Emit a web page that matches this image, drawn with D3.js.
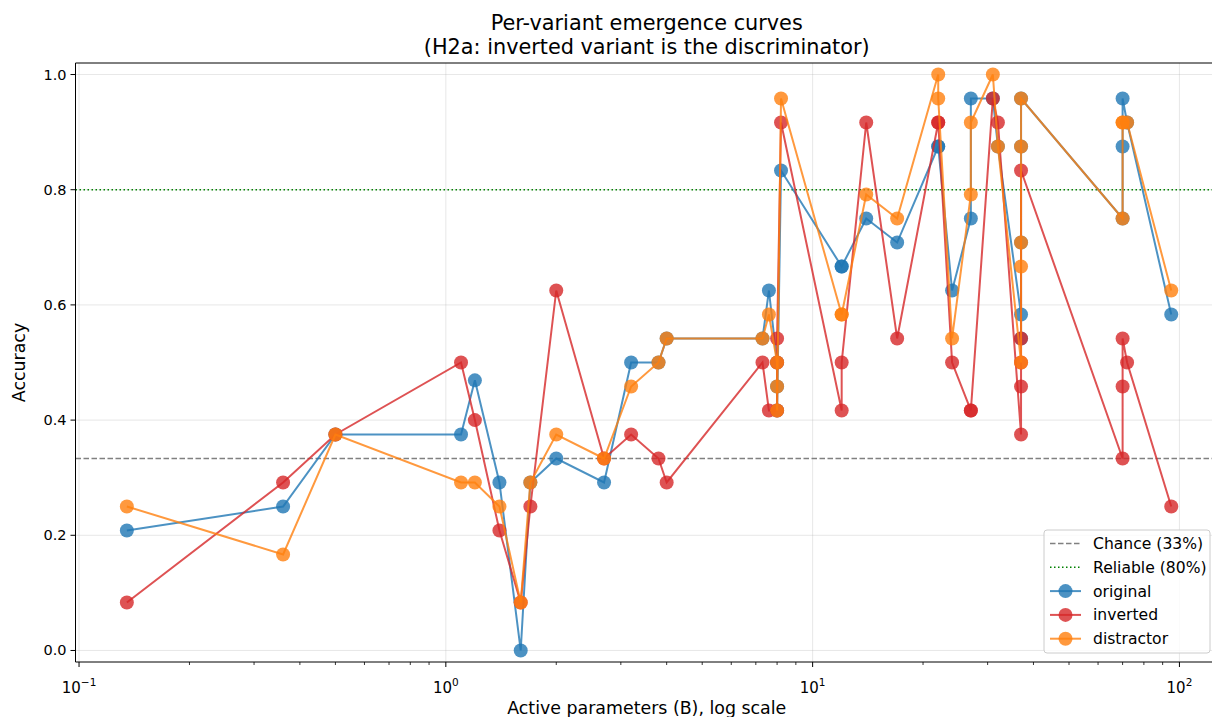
<!DOCTYPE html>
<html>
<head>
<meta charset="utf-8">
<script src="https://cdn.jsdelivr.net/npm/d3@7"></script>
<style>
  body { margin: 0; background: #fff; }
  svg text { font-family: "DejaVu Sans", sans-serif; fill: #000; }
</style>
</head>
<body>
<svg id="chart" width="1212" height="717"></svg>
<script>
// active parameters (B) per model, sorted; repeated values = several models of same size
var params = [0.135, 0.36, 0.5, 1.1, 1.2, 1.4, 1.6, 1.7, 2.0, 2.7, 3.2, 3.8, 4.0, 7.3, 7.6,
  8.0, 8.0, 8.0, 8.2, 12, 12, 14, 17, 22, 22, 24, 27, 27, 31, 32,
  37, 37, 37, 37, 37, 70, 70, 70, 72, 95];

var original = [0.2083, 0.25, 0.375, 0.375, 0.469, 0.2917, 0.0, 0.2917, 0.3333, 0.2917, 0.5, 0.5, 0.5417, 0.5417, 0.625,
  0.5, 0.4583, 0.4167, 0.8333, 0.6667, 0.6667, 0.75, 0.7083, 0.875, 0.875, 0.625, 0.75, 0.9583, 0.9583, 0.875,
  0.5833, 0.5417, 0.7083, 0.875, 0.9583, 0.75, 0.875, 0.9583, 0.9167, 0.5833];

var inverted = [0.0833, 0.2917, 0.375, 0.5, 0.4, 0.2083, 0.0833, 0.25, 0.625, 0.3333, 0.375, 0.3333, 0.2917, 0.5, 0.4167,
  0.4167, 0.5, 0.5417, 0.9167, 0.4167, 0.5, 0.9167, 0.5417, 0.9167, 0.9167, 0.5, 0.4167, 0.4167, 0.9583, 0.9167,
  0.375, 0.4583, 0.5417, 0.5, 0.8333, 0.3333, 0.4583, 0.5417, 0.5, 0.25];

var distractor = [0.25, 0.1667, 0.375, 0.2917, 0.2917, 0.25, 0.0833, 0.2917, 0.375, 0.3333, 0.4583, 0.5, 0.5417, 0.5417, 0.5833,
  0.5, 0.4583, 0.4167, 0.9583, 0.5833, 0.5833, 0.7917, 0.75, 1.0, 0.9583, 0.5417, 0.7917, 0.9167, 1.0, 0.875,
  0.5, 0.6667, 0.7083, 0.875, 0.9583, 0.75, 0.9167, 0.9167, 0.9167, 0.625];

var seriesNames = ['original', 'inverted', 'distractor'];
var seriesColors = ['#1f77b4', '#d62728', '#ff7f0e'];

var yTicks = [0, 0.2, 0.4, 0.6, 0.8, 1.0];
var xTicks = [0.1, 1, 10, 100];
var xTickExps = ['\u22121', '0', '1', '2'];

var chanceLevel = 1 / 3;
var reliableLevel = 0.8;

var graph = {
  left: 75.5,
  right: 1218,
  top: 63,
  bottom: 662
};

var svg = d3.select('#chart');

var x = d3.scaleLog().domain([0.0978, 127.4]).range([graph.left, graph.right]);
var y = d3.scaleLinear().domain([-0.02, 1.02]).range([graph.bottom, graph.top]);

// gridlines
svg.append('g')
  .selectAll('line.hgrid')
  .data(yTicks)
  .enter().append('line')
  .attr('x1', graph.left).attr('x2', graph.right)
  .attr('y1', function(d) { return y(d); })
  .attr('y2', function(d) { return y(d); })
  .attr('stroke', '#b0b0b0').attr('stroke-opacity', 0.3).attr('stroke-width', 1);

svg.append('g')
  .selectAll('line.vgrid')
  .data(xTicks)
  .enter().append('line')
  .attr('x1', function(d) { return x(d); })
  .attr('x2', function(d) { return x(d); })
  .attr('y1', graph.top).attr('y2', graph.bottom)
  .attr('stroke', '#b0b0b0').attr('stroke-opacity', 0.3).attr('stroke-width', 1);

// reference lines
svg.append('line')
  .attr('x1', graph.left).attr('x2', graph.right)
  .attr('y1', y(chanceLevel)).attr('y2', y(chanceLevel))
  .attr('stroke', '#808080').attr('stroke-width', 1.5)
  .attr('stroke-dasharray', '5.5,2.5');

svg.append('line')
  .attr('x1', graph.left).attr('x2', graph.right)
  .attr('y1', y(reliableLevel)).attr('y2', y(reliableLevel))
  .attr('stroke', '#008000').attr('stroke-width', 1.5)
  .attr('stroke-dasharray', '1.5,2.5');

// series
var seriesValues = [original, inverted, distractor];

var valueLine = d3.line()
  .x(function(d) { return x(d.p); })
  .y(function(d) { return y(d.v); });

seriesValues.forEach(function(vals, i) {
  var pts = params.map(function(p, j) { return { p: p, v: vals[j] }; });
  var g = svg.append('g').attr('class', 'series-' + seriesNames[i]);

  g.append('path')
    .datum(pts)
    .attr('d', valueLine)
    .attr('fill', 'none')
    .attr('stroke', seriesColors[i])
    .attr('stroke-opacity', 0.8)
    .attr('stroke-width', 2);

  g.selectAll('circle')
    .data(pts)
    .enter().append('circle')
    .attr('cx', function(d) { return x(d.p); })
    .attr('cy', function(d) { return y(d.v); })
    .attr('r', 7)
    .attr('fill', seriesColors[i])
    .attr('fill-opacity', 0.8);
});

// spines
svg.append('line')
  .attr('x1', graph.left).attr('x2', graph.left)
  .attr('y1', graph.top).attr('y2', graph.bottom)
  .attr('stroke', '#000').attr('stroke-width', 1);
svg.append('line')
  .attr('x1', graph.left).attr('x2', 1212)
  .attr('y1', graph.bottom).attr('y2', graph.bottom)
  .attr('stroke', '#000').attr('stroke-width', 1);
svg.append('line')
  .attr('x1', graph.left).attr('x2', 1212)
  .attr('y1', graph.top).attr('y2', graph.top)
  .attr('stroke', '#000').attr('stroke-width', 1);

// y axis
var yAxis = svg.append('g');
yAxis.selectAll('line')
  .data(yTicks)
  .enter().append('line')
  .attr('x1', graph.left - 5).attr('x2', graph.left)
  .attr('y1', function(d) { return y(d); })
  .attr('y2', function(d) { return y(d); })
  .attr('stroke', '#000');
yAxis.selectAll('text')
  .data(yTicks)
  .enter().append('text')
  .attr('x', graph.left - 9)
  .attr('y', function(d) { return y(d) + 5; })
  .attr('text-anchor', 'end')
  .style('font-size', '14.5px')
  .text(function(d) { return d3.format('.1f')(d); });

// x axis: major and minor ticks
var minorTicks = [];
[0.1, 1, 10].forEach(function(base) {
  for (var k = 2; k <= 9; k++) minorTicks.push(base * k);
});

var xAxis = svg.append('g');
xAxis.selectAll('line.minor')
  .data(minorTicks)
  .enter().append('line')
  .attr('x1', function(d) { return x(d); })
  .attr('x2', function(d) { return x(d); })
  .attr('y1', graph.bottom).attr('y2', graph.bottom + 3)
  .attr('stroke', '#000').attr('stroke-width', 0.8);
xAxis.selectAll('line.major')
  .data(xTicks)
  .enter().append('line')
  .attr('x1', function(d) { return x(d); })
  .attr('x2', function(d) { return x(d); })
  .attr('y1', graph.bottom).attr('y2', graph.bottom + 5)
  .attr('stroke', '#000');

var xLabels = xAxis.selectAll('text')
  .data(xTicks)
  .enter().append('text')
  .attr('x', function(d) { return x(d); })
  .attr('y', 693)
  .attr('text-anchor', 'middle')
  .style('font-size', '15px');
xLabels.append('tspan').text('10');
xLabels.append('tspan')
  .attr('dy', -7)
  .style('font-size', '10.5px')
  .text(function(d, i) { return xTickExps[i]; });

// axis labels
svg.append('text')
  .attr('x', (graph.left + graph.right) / 2)
  .attr('y', 714)
  .attr('text-anchor', 'middle')
  .style('font-size', '17.4px')
  .text('Active parameters (B), log scale');

svg.append('text')
  .attr('transform', 'translate(25,' + ((graph.top + graph.bottom) / 2) + ') rotate(-90)')
  .attr('text-anchor', 'middle')
  .style('font-size', '17.4px')
  .text('Accuracy');

// title
svg.append('text')
  .attr('x', (graph.left + graph.right) / 2)
  .attr('y', 30)
  .attr('text-anchor', 'middle')
  .style('font-size', '20.8px')
  .text('Per-variant emergence curves');
svg.append('text')
  .attr('x', (graph.left + graph.right) / 2)
  .attr('y', 54)
  .attr('text-anchor', 'middle')
  .style('font-size', '20.8px')
  .text('(H2a: inverted variant is the discriminator)');

// legend
var legendItems = [
  { label: 'Chance (33%)', color: '#808080', dash: '5.5,2.5', marker: false },
  { label: 'Reliable (80%)', color: '#008000', dash: '1.5,2.5', marker: false }
].concat(seriesNames.map(function(n, i) {
  return { label: n, color: seriesColors[i], dash: null, marker: true };
}));

var legend = svg.append('g').attr('transform', 'translate(1044,530)');
legend.append('rect')
  .attr('width', 166).attr('height', 123)
  .attr('rx', 3)
  .attr('fill', '#fff').attr('fill-opacity', 0.8)
  .attr('stroke', '#cccccc').attr('stroke-width', 1);

var rows = legend.selectAll('g.row')
  .data(legendItems)
  .enter().append('g')
  .attr('transform', function(d, i) { return 'translate(0,' + (13.5 + i * 23.8) + ')'; });

rows.append('line')
  .attr('x1', 6).attr('x2', 37)
  .attr('stroke', function(d) { return d.color; })
  .attr('stroke-opacity', function(d) { return d.marker ? 0.8 : 1; })
  .attr('stroke-width', function(d) { return d.marker ? 2 : 1.5; })
  .attr('stroke-dasharray', function(d) { return d.dash; });

rows.filter(function(d) { return d.marker; })
  .append('circle')
  .attr('cx', 21.5).attr('r', 7)
  .attr('fill', function(d) { return d.color; })
  .attr('fill-opacity', 0.8);

rows.append('text')
  .attr('x', 49)
  .attr('y', 5.5)
  .style('font-size', '15.6px')
  .text(function(d) { return d.label; });
</script>
</body>
</html>
